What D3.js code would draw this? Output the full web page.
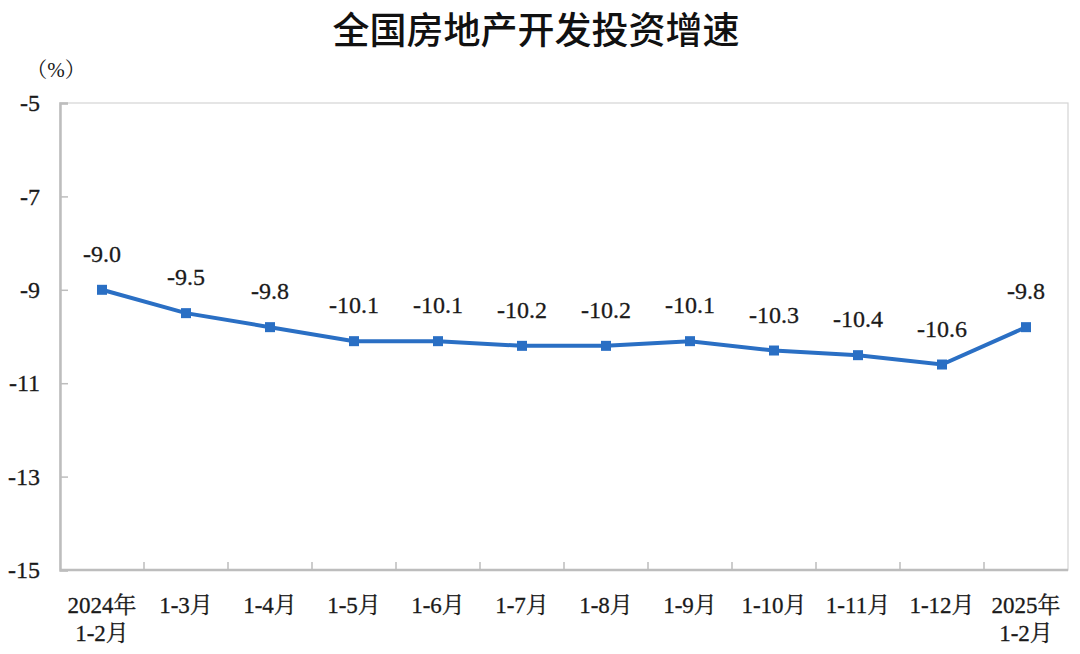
<!DOCTYPE html>
<html><head><meta charset="utf-8">
<script src="https://cdn.jsdelivr.net/npm/d3@7/dist/d3.min.js"></script>
<style>body{margin:0;background:#fff;}</style>
</head><body>
<svg id="c" width="1080" height="654"></svg>
<script>
const categories = ["2024年\n1-2月","1-3月","1-4月","1-5月","1-6月","1-7月","1-8月","1-9月","1-10月","1-11月","1-12月","2025年\n1-2月"];
const values = [-9.0,-9.5,-9.8,-10.1,-10.1,-10.2,-10.2,-10.1,-10.3,-10.4,-10.6,-9.8];
const yTicks = [-5,-7,-9,-11,-13,-15];
const title = "全国房地产开发投资增速";
const unit = "（%）";

const svg = d3.select("#c");
const m = {l:60, t:103, r:1068, b:570};
const x = d3.scaleBand().domain(d3.range(categories.length)).range([m.l, m.r]);
const y = d3.scaleLinear().domain([-15,-5]).range([m.b, m.t]);
const serif = "'Liberation Serif','Noto Serif CJK SC',serif";
const color = "#2a6fc4";
const txt = "#1a1a1a";

svg.append("text").attr("x",536).attr("y",44).attr("text-anchor","middle")
  .style("font-family","'Noto Sans CJK SC',sans-serif").style("font-weight",500)
  .style("font-size","37px").attr("fill","#111").text(title);
svg.append("text").attr("x",56).attr("y",77).attr("text-anchor","middle")
  .style("font-family",serif).style("font-size","21px").attr("fill",txt).text(unit);

// frame
svg.append("rect").attr("x",m.l).attr("y",m.t).attr("width",m.r-m.l).attr("height",m.b-m.t)
  .attr("fill","none").attr("stroke","#d4d4d4").attr("stroke-width",1.2);

// y axis
const yAxis = d3.axisLeft(y).tickValues(yTicks).tickSize(-8).tickFormat(d=>d);
const ga = svg.append("g").attr("transform",`translate(${m.l},0)`).call(yAxis);
ga.attr("font-family",null);
ga.select(".domain").attr("stroke","#bdbdbd").attr("stroke-width",2.5);
ga.selectAll(".tick line").attr("stroke","#bdbdbd").attr("stroke-width",1.5);
ga.selectAll(".tick text").style("font-family",serif).style("font-size","24px").attr("fill",txt).attr("x",-20)
  .attr("stroke",txt).attr("stroke-width",0.3);

// x axis
const gx = svg.append("g").attr("transform",`translate(0,${m.b})`);
gx.append("line").attr("x1",m.l).attr("x2",m.r).attr("stroke","#bdbdbd").attr("stroke-width",2.5);
gx.selectAll("line.t").data(d3.range(1,categories.length)).join("line").attr("class","t")
  .attr("x1",d=>x(d)).attr("x2",d=>x(d)).attr("y1",0).attr("y2",-8)
  .attr("stroke","#bdbdbd").attr("stroke-width",1.5);
const xl = gx.selectAll("text.l").data(categories).join("text").attr("class","l")
  .style("font-family",serif).style("font-size","23px").attr("fill",txt).attr("text-anchor","middle")
  .attr("stroke",txt).attr("stroke-width",0.3);
xl.each(function(d,i){
  const t = d3.select(this);
  d.split("\n").forEach((s,j)=>{
    t.append("tspan").attr("x",x(i)+x.bandwidth()/2).attr("y",43+j*28).text(s);
  });
});

// line
const cx = i => x(i)+x.bandwidth()/2;
svg.append("path").datum(values)
  .attr("d",d3.line().x((d,i)=>cx(i)).y(d=>y(d)))
  .attr("fill","none").attr("stroke",color).attr("stroke-width",4);
svg.selectAll("rect.p").data(values).join("rect").attr("class","p")
  .attr("x",(d,i)=>cx(i)-5).attr("y",d=>y(d)-5).attr("width",10).attr("height",10).attr("fill",color);
svg.selectAll("text.v").data(values).join("text").attr("class","v")
  .attr("x",(d,i)=>cx(i)).attr("y",d=>y(d)-28).attr("text-anchor","middle")
  .style("font-family",serif).style("font-size","24px").attr("fill",txt)
  .attr("stroke",txt).attr("stroke-width",0.3).text(d=>d.toFixed(1));
</script>
</body></html>
